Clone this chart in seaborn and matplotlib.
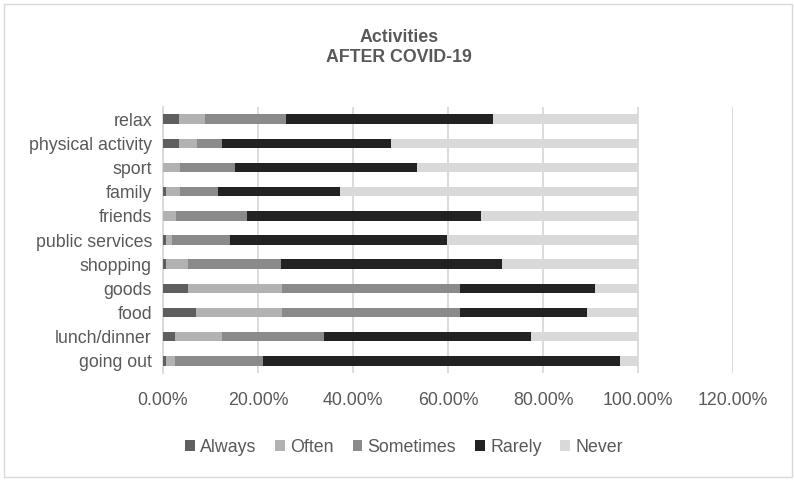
import matplotlib
matplotlib.use("Agg")
import matplotlib.pyplot as plt
import seaborn as sns
import numpy as np
import pandas as pd
from matplotlib.patches import Rectangle
from matplotlib.ticker import FuncFormatter, MultipleLocator

categories = ["relax", "physical activity", "sport", "family", "friends",
              "public services", "shopping", "goods", "food", "lunch/dinner", "going out"]
always = [3.4, 3.4, 0.0, 0.7, 0.0, 0.7, 0.7, 5.2, 6.9, 2.5, 0.7]
often = [5.4, 3.7, 3.5, 2.8, 2.7, 1.1, 4.5, 19.8, 18.1, 9.9, 1.9]
sometimes = [17.0, 5.3, 11.6, 8.0, 15.0, 12.4, 19.7, 37.5, 37.5, 21.5, 18.5]
rarely = [43.7, 35.7, 38.4, 25.8, 49.2, 45.5, 46.4, 28.5, 26.7, 43.6, 75.2]
never = [30.5, 51.9, 46.5, 62.7, 33.1, 40.3, 28.7, 9.0, 10.8, 22.5, 3.7]
series_names = ["Always", "Often", "Sometimes", "Rarely", "Never"]
colors = ["#5f5f5f", "#b2b2b2", "#8a8a8a", "#222222", "#d9d9d9"]

sns.set_theme(style="white")
plt.rcParams["font.family"] = ["Liberation Sans", "DejaVu Sans"]
txt = "#595959"
fs = 12.8

fig = plt.figure(figsize=(7.94, 4.8), dpi=100)
ax = fig.add_axes([163/794, 1-373/480, (733-163)/794, (373-107)/480])

df = pd.DataFrame({"category": categories, "Always": always, "Often": often,
                   "Sometimes": sometimes, "Rarely": rarely, "Never": never})
cum = df[series_names].cumsum(axis=1)

for name, col in reversed(list(zip(series_names, colors))):
    sns.barplot(data=cum.assign(category=df["category"]), x=name, y="category",
                orient="h", color=col, width=0.39, linewidth=0, ax=ax,
                label=name, zorder=3)

handles, labels = ax.get_legend_handles_labels()
if ax.get_legend() is not None:
    ax.get_legend().remove()

ax.set_xlim(0, 120)
ax.set_ylim(len(categories) - 0.5, -0.5)
ax.xaxis.set_major_locator(MultipleLocator(20))
ax.xaxis.set_major_formatter(FuncFormatter(lambda v, p: f"{v:.2f}%"))
ax.grid(axis="x", color="#d9d9d9", linewidth=1.3, zorder=0)
ax.grid(axis="y", visible=False)
for s in ["top", "right", "bottom"]:
    ax.spines[s].set_visible(False)
ax.spines["left"].set_color("#d9d9d9")
ax.spines["left"].set_linewidth(1.3)
ax.set_xlabel("")
ax.set_ylabel("")
ax.tick_params(axis="both", length=0, labelsize=fs, labelcolor=txt)
ax.tick_params(axis="y", pad=8)
ax.tick_params(axis="x", pad=14)

fig.text(0.5025, 1-38/480, "Activities", ha="center", va="center",
         fontsize=fs, fontweight="bold", color=txt)
fig.text(0.5025, 1-58/480, "AFTER COVID-19", ha="center", va="center",
         fontsize=fs, fontweight="bold", color=txt)

order = [labels.index(n) for n in series_names]
fig.legend([handles[i] for i in order], [labels[i] for i in order],
           loc="center", bbox_to_anchor=(404/794, 1-447/480), ncol=5,
           frameon=False, fontsize=fs, labelcolor=txt, handlelength=0.55,
           handleheight=0.55, handletextpad=0.3, columnspacing=1.05)

fig.patches.append(Rectangle((4/794, 3/480), 788/794, 473/480, transform=fig.transFigure,
                             fill=False, edgecolor="#d9d9d9", linewidth=1.0))

fig.savefig("out.png", dpi=100)
